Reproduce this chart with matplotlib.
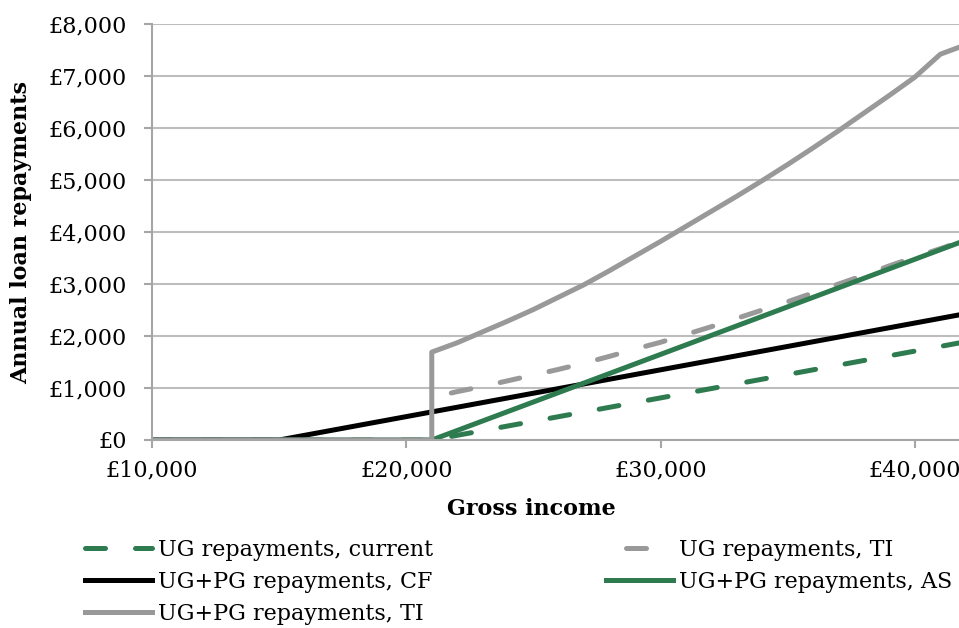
import matplotlib
matplotlib.use("Agg")
import matplotlib.pyplot as plt
from matplotlib.ticker import FuncFormatter

# gross income (GBP), 1,000 steps from 10k to 42k
income = list(range(10000, 43000, 1000))
income_21k = income[11:]

# series are zero below their thresholds
ug_current = [0] * 11 + [0, 90, 180, 270, 360, 450, 540, 630, 720, 810, 900,
                         990, 1080, 1170, 1260, 1350, 1440, 1530, 1620, 1710, 1800, 1890]
ug_ti = [820, 930, 1030, 1140, 1250, 1360, 1480, 1610, 1750, 1880, 2030,
         2180, 2340, 2500, 2660, 2830, 3000, 3170, 3350, 3520, 3680, 3850]
pg_cf = [0] * 5 + [0, 90, 180, 270, 360, 450, 540, 630, 720, 810, 900, 990, 1080, 1170,
                   1260, 1350, 1440, 1530, 1620, 1710, 1800, 1890, 1980, 2070, 2160,
                   2250, 2340, 2430]
pg_as = [0] * 11 + [0, 183, 366, 549, 732, 915, 1098, 1281, 1464, 1647, 1830,
                    2013, 2196, 2379, 2562, 2745, 2928, 3111, 3294, 3477, 3660, 3843]
# UG+PG TI jumps at the 21k threshold
pg_ti_x = income[:12] + income_21k
pg_ti = [0] * 12 + [1690, 1870, 2080, 2290, 2510, 2750, 2990, 3260, 3540, 3820, 4110,
                    4400, 4690, 4990, 5300, 5620, 5950, 6290, 6630, 6980, 7420, 7600]

labels = ["UG repayments, current", "UG repayments, TI", "UG+PG repayments, CF",
          "UG+PG repayments, AS", "UG+PG repayments, TI"]

GREEN = "#2E7B50"
GREY = "#999999"
AXIS = "#A6A6A6"

plt.rcParams["font.family"] = ["DejaVu Serif"]

fig = plt.figure(figsize=(9.59, 6.28), dpi=100)
ax = fig.add_axes([152 / 959, 1 - 440 / 628, 1 - 152 / 959, (440 - 24) / 628])

lw = 3.6
h1, = ax.plot(income, ug_current, color=GREEN, lw=lw, ls=(0, (4, 6)),
              dash_capstyle="round", label=labels[0])
h2, = ax.plot(income_21k, ug_ti, color=GREY, lw=lw, ls=(6, (4, 6)),
              dash_capstyle="round", label=labels[1])
h3, = ax.plot(income, pg_cf, color="black", lw=lw, label=labels[2])
h4, = ax.plot(income, pg_as, color=GREEN, lw=lw, label=labels[3])
h5, = ax.plot(pg_ti_x, pg_ti, color=GREY, lw=lw, label=labels[4])

ax.set_xlim(10000, 41730)
ax.set_ylim(0, 8000)
ax.set_xticks([10000, 20000, 30000, 40000])
ax.set_yticks(range(0, 8001, 1000))
fmt = FuncFormatter(lambda v, _: f"£{v:,.0f}")
ax.xaxis.set_major_formatter(fmt)
ax.yaxis.set_major_formatter(fmt)
ax.tick_params(axis="both", labelsize=16, color=AXIS, width=1.5, length=6)
ax.tick_params(axis="y", pad=12)
ax.tick_params(axis="x", pad=8)

ax.grid(axis="y", color="#BDBDBD", lw=1.5)
ax.set_axisbelow(True)
for s in ("top", "right"):
    ax.spines[s].set_visible(False)
for s in ("left", "bottom"):
    ax.spines[s].set_color(AXIS)
    ax.spines[s].set_linewidth(1.5)

ax.set_xlabel("Gross income", fontsize=16, fontweight="bold")
ax.xaxis.set_label_coords((531 - 152) / 807, -0.14)
ax.set_ylabel("Annual loan repayments", fontsize=16, fontweight="bold")
ax.yaxis.set_label_coords(-0.149, 0.5)

leg_kw = dict(frameon=False, fontsize=16, handlelength=3.0, handletextpad=0.3,
              labelspacing=0.45, borderaxespad=0, borderpad=0)
fig.legend([h1, h3, h5], [labels[0], labels[2], labels[4]],
           loc="upper left", bbox_to_anchor=(85 / 959, 1 - 539 / 628), **leg_kw)
fig.legend([h2, h4], [labels[1], labels[3]],
           loc="upper left", bbox_to_anchor=(606 / 959, 1 - 539 / 628), **leg_kw)

fig.savefig("out.png", dpi=100)
